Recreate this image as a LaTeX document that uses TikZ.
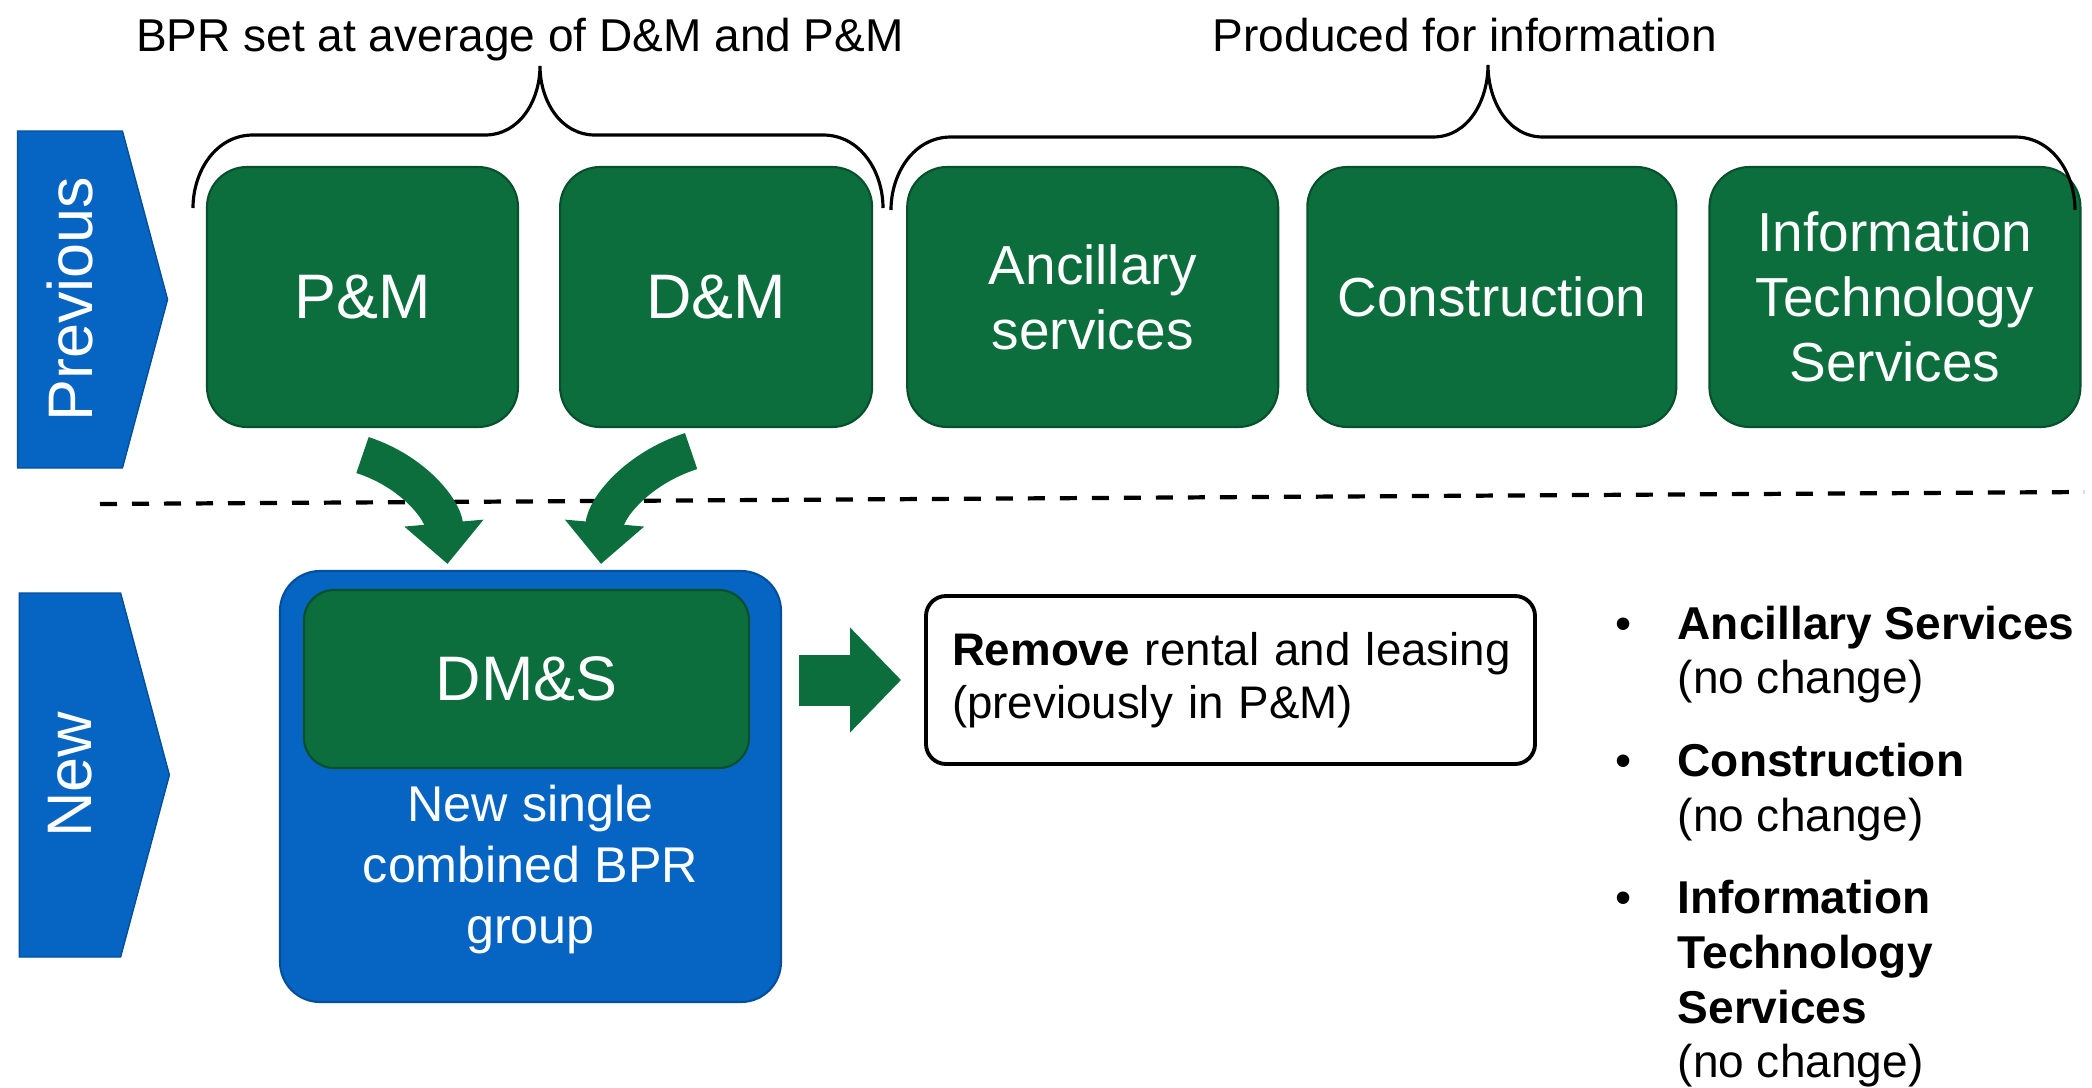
\documentclass[tikz,border=0pt]{standalone}
\usepackage{fontspec}
\setmainfont{Liberation Sans}
\usetikzlibrary{arrows.meta,positioning,shapes.symbols}
\definecolor{bprgreen}{HTML}{0B6E3C}
\definecolor{bprgreendk}{HTML}{06502B}
\definecolor{bprblue}{HTML}{0664C3}
\definecolor{bprbluedk}{HTML}{044F9C}
\tikzset{
  stage/.style={shape=signal,signal to=east,signal pointer angle=150,fill=bprblue,draw=bprbluedk,line width=0.4pt,text=white,inner sep=0pt,minimum width=15mm,font=\fontsize{17.9}{20}\selectfont},
  grp/.style={rounded corners=4mm,fill=bprgreen,draw=bprgreendk,line width=0.6pt,text=white,align=center,inner sep=0pt,minimum height=26mm,font=\fontsize{15.65}{18.5}\selectfont},
  grpbig/.style={grp,font=\fontsize{17.9}{20}\selectfont},
  combo/.style={rounded corners=4mm,fill=bprblue,draw=bprbluedk,line width=0.6pt,inner sep=0pt,minimum width=50.1mm,minimum height=43.1mm},
  remark/.style={rounded corners=2mm,draw=black,line width=1.1pt,fill=white,align=left,inner xsep=2.6mm,inner ysep=0pt,text width=55.7mm,minimum height=16.8mm,font=\fontsize{13}{15.1}\selectfont},
  listitem/.style={align=left,inner sep=0pt,font=\fontsize{13.1}{15.6}\selectfont},
  hdr/.style={anchor=base,inner sep=0pt,font=\fontsize{13.1}{15.6}\selectfont},
  brc/.style={line width=0.9pt},
  divider/.style={line width=1.2pt,dash pattern=on 1.7mm off 1.5mm},
  swoop/.style={draw=bprgreen,line width=3.8mm,-{Triangle[length=4.1mm,width=7.7mm]}},
  blockarr/.style={draw=bprgreen,line width=5.1mm,-{Triangle[length=5.1mm,width=10.2mm]}},
}
\begin{document}
\begin{tikzpicture}
  \useasboundingbox (0,0) rectangle (20.92,-10.88);
  % row labels
  \node[stage,minimum height=33.7mm] (prev) at (0.70,-2.995) {\rotatebox{90}{Previous}};
  \node[stage,minimum height=36.4mm] (new) at (0.70,-7.75) {\rotatebox{90}{New}};
  % previous BPR groups
  \node[grpbig,minimum width=31.1mm] (pm) at (3.625,-2.97) {P\&M};
  \node[grpbig,minimum width=31.2mm,right=4mm of pm] (dm) {D\&M};
  \node[grp,minimum width=37.1mm,right=3.3mm of dm] (anc) {Ancillary\\services};
  \node[grp,minimum width=36.9mm,right=2.7mm of anc] (con) {Construction};
  \node[grp,minimum width=37.1mm,right=3.1mm of con] (its) {Information\\Technology\\Services};
  % braces and their captions
  \draw[brc] (1.93,-2.08) to[out=90,in=180] (2.53,-1.35) -- (4.85,-1.35) to[out=0,in=-90] (5.40,-0.66)
    to[out=-90,in=180] (5.95,-1.35) -- (8.23,-1.35) to[out=0,in=90] (8.83,-2.08);
  \draw[brc] (8.91,-2.10) to[out=90,in=180] (9.51,-1.37) -- (14.33,-1.37) to[out=0,in=-90] (14.88,-0.65)
    to[out=-90,in=180] (15.43,-1.37) -- (20.15,-1.37) to[out=0,in=90] (20.75,-2.10);
  \node[hdr] (avg) at (5.20,-0.51) {BPR set at average of D\&M and P\&M};
  \node[hdr] (info) at (14.65,-0.51) {Produced for information};
  \draw[divider] (1.00,-5.04) -- (20.84,-4.92);
  % new combined group
  \node[combo] (group) at (5.305,-7.865) {};
  \node[grpbig,minimum width=44.5mm,minimum height=17.8mm,rounded corners=3mm,below right=1.9mm and 2.4mm of group.north west] (dms) {DM\&S};
  \node[text=white,align=center,font=\fontsize{14.3}{17.4}\selectfont] (cap) at ([yshift=-8.3mm]group.center) {New single\\combined BPR\\group};
  \draw[swoop] ([yshift=-2.7mm]pm.south) to[out=-18,in=95] ([xshift=-8.3mm,yshift=0.6mm]group.north);
  \draw[swoop] ([xshift=-2.5mm,yshift=-2.3mm]dm.south) to[out=-162,in=85] ([xshift=7.05mm,yshift=0.6mm]group.north);
  \node[remark] (rem) at (12.305,-6.80) {\mbox{\textbf{Remove} rental and leasing}\\(previously in P\&M)};
  \draw[blockarr,shorten <=1.7mm,shorten >=2.3mm] (group.east |- rem.west) -- (rem.west);
  % unchanged groups
  \node[listitem,anchor=north west] (li1) at (16.77,-6.05) {\llap{•\hspace{4.6mm}}\textbf{Ancillary Services}\\(no change)};
  \node[listitem,below=3.8mm of li1.south west,anchor=north west] (li2) {\llap{•\hspace{4.6mm}}\textbf{Construction}\\(no change)};
  \node[listitem,below=3.8mm of li2.south west,anchor=north west] (li3) {\llap{•\hspace{4.6mm}}\textbf{Information}\\\textbf{Technology}\\\textbf{Services}\\(no change)};
\end{tikzpicture}
\end{document}
